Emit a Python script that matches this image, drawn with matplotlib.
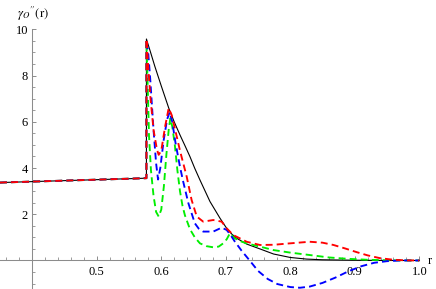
import numpy as np
import matplotlib
matplotlib.use("Agg")
import matplotlib.pyplot as plt

plt.rcParams['mathtext.fontset'] = 'stix'
plt.rcParams['font.family'] = ['Liberation Serif', 'DejaVu Serif']

# ---- data ----
r_left = [0.35, 0.577]
y_left = [3.37, 3.56]

r_black = [0.577, 0.577, 0.584, 0.59, 0.6, 0.6115, 0.62, 0.629, 0.637, 0.6445, 0.652, 0.66,
           0.6755, 0.691, 0.7014, 0.709, 0.717, 0.7324, 0.753, 0.774, 0.80, 0.825, 0.85,
           0.9, 0.95, 1.0]
y_black = [3.56, 9.58, 8.95, 8.4, 7.55, 6.6, 6.0, 5.43, 4.95, 4.49, 3.98, 3.48,
           2.55, 1.83, 1.39, 1.15, 0.96, 0.71, 0.5, 0.28, 0.13, 0.06, 0.03,
           0.01, 0.0, 0.0]

r_green = [0.577, 0.577, 0.579, 0.581, 0.584, 0.588, 0.592, 0.596, 0.600, 0.604, 0.608,
           0.6115, 0.614, 0.617, 0.621, 0.625, 0.629, 0.633, 0.6367, 0.6445, 0.652,
           0.66, 0.67, 0.6806, 0.689, 0.696, 0.7015, 0.7065, 0.71, 0.714, 0.722,
           0.7324, 0.753, 0.774, 0.80, 0.826, 0.86, 0.89, 0.92, 0.95, 0.98, 1.0]
y_green = [3.56, 9.5, 7.5, 5.4, 3.9, 2.8, 2.1, 1.9, 2.2, 3.2, 4.6,
           5.65, 6.15, 5.8, 5.0, 3.9, 3.0, 2.35, 1.95, 1.35, 1.0,
           0.74, 0.62, 0.57, 0.6, 0.74, 0.92, 1.18, 1.07, 0.96, 0.84,
           0.74, 0.6, 0.45, 0.34, 0.25, 0.13, 0.07, 0.03, 0.01, 0.0, 0.0]

r_blue = [0.577, 0.577, 0.580, 0.583, 0.588, 0.592, 0.595, 0.5985, 0.6037, 0.609, 0.613,
          0.617, 0.622, 0.629, 0.634, 0.642, 0.652, 0.658, 0.665, 0.6806, 0.6936,
          0.7014, 0.707, 0.714, 0.7246, 0.737, 0.75, 0.765, 0.78, 0.80, 0.815, 0.83,
          0.85, 0.87, 0.89, 0.91, 0.93, 0.95, 0.97, 1.0]
y_blue = [3.56, 9.55, 8.9, 7.8, 5.65, 4.2, 3.5, 4.0, 5.2, 6.1, 6.42,
          6.0, 5.1, 4.05, 3.41, 2.48, 1.61, 1.38, 1.25, 1.25, 1.42,
          1.32, 1.12, 0.82, 0.42, 0.0, -0.45, -0.8, -1.02, -1.15, -1.18, -1.13,
          -0.97, -0.74, -0.47, -0.25, -0.1, -0.03, 0.0, 0.0]

r_red = [0.577, 0.577, 0.580, 0.583, 0.588, 0.5933, 0.596, 0.600, 0.606, 0.6115, 0.616,
         0.622, 0.629, 0.6394, 0.647, 0.655, 0.665, 0.6806, 0.6936, 0.7014, 0.7116,
         0.7324, 0.753, 0.775, 0.795, 0.83, 0.85, 0.867, 0.885, 0.903, 0.92, 0.939,
         0.96, 0.98, 1.0]
y_red = [3.56, 9.58, 8.3, 7.1, 5.65, 4.8, 4.57, 4.75, 5.8, 6.59, 6.3,
         5.6, 4.75, 3.63, 2.62, 1.9, 1.68, 1.75, 1.68, 1.39, 1.1,
         0.81, 0.67, 0.68, 0.73, 0.81, 0.77, 0.67, 0.52, 0.36, 0.22, 0.1,
         0.03, 0.005, 0.0]

xtick_vals = [0.5, 0.6, 0.7, 0.8, 0.9, 1.0]
xtick_labels = ['0.5', '0.6', '0.7', '0.8', '0.9', '1.0']
ytick_vals = [2, 4, 6, 8, 10]
ytick_labels = ['2', '4', '6', '8', '10']

# ---- figure ----
W, H = 436, 289
fig = plt.figure(figsize=(W / 100, H / 100), dpi=100)
ax = fig.add_axes([0, 0, 419.3 / W, (H - 29.3) / H])
ax.set_xlim(0.35, 1.0)
ax.set_ylim(-1.234, 10)

dash = (0, (3.7, 2.2))
lw_d = 1.35
ax.plot(r_left, y_left, color='black', lw=0.8, zorder=2, clip_on=False)
ax.plot(r_black, y_black, color='black', lw=0.8, zorder=2, clip_on=False)
for (rr, yy, c, z) in [(r_green, y_green, '#00ee00', 3),
                       (r_blue, y_blue, '#0000ff', 4),
                       (r_red, y_red, '#ff0000', 5)]:
    ax.plot(r_left + rr, y_left + yy, color=c, lw=lw_d, ls=dash, zorder=z,
            clip_on=False, dash_capstyle='butt', dash_joinstyle='round')

# axes styling
axcol = '#8c8c8c'
for s in ['top', 'right']:
    ax.spines[s].set_visible(False)
ax.spines['left'].set_position(('data', 0.4))
ax.spines['bottom'].set_position(('data', 0))
for s in ['left', 'bottom']:
    ax.spines[s].set_color(axcol)
    ax.spines[s].set_linewidth(0.75)
    ax.spines[s].set_zorder(1)

ax.set_xticks(xtick_vals)
ax.set_xticklabels(xtick_labels)
ax.set_xticks([v for v in np.round(np.arange(0.36, 1.0, 0.02), 2)
               if all(abs(v - m) > 1e-6 for m in xtick_vals + [0.4])], minor=True)
ax.set_yticks(ytick_vals)
ax.set_yticklabels(ytick_labels)
ax.set_yticks([v for v in np.arange(-1.0, 10.0, 0.5)
               if all(abs(v - m) > 1e-6 for m in ytick_vals + [0])], minor=True)

ax.tick_params(axis='both', which='major', direction='in', length=3.2, width=0.7,
               color=axcol, labelsize=9, labelcolor='black')
ax.tick_params(axis='both', which='minor', direction='in', length=1.9, width=0.6,
               color=axcol)
ax.tick_params(axis='x', which='major', pad=4)
ax.tick_params(axis='y', which='major', pad=3)
ax.patch.set_alpha(0)

fig.text(17 / W, 1 - 14 / H, r"$\gamma_O{}^{\prime\prime}\mathrm{(r)}$", fontsize=9,
         ha='left', va='center')
fig.text(428 / W, 1 - 261 / H, "r", fontsize=9, ha='left', va='center')

fig.savefig("out.png", dpi=100)
